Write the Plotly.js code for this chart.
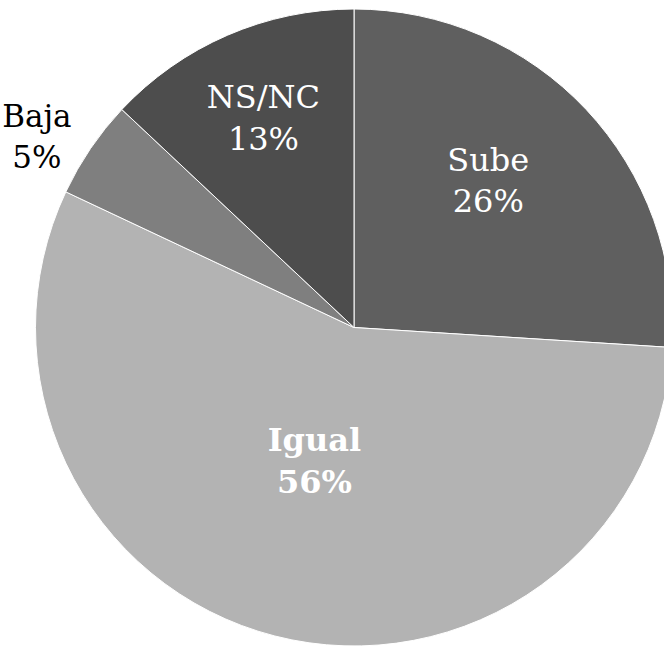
<!DOCTYPE html>
<html>
<head>
<meta charset="utf-8">
<script src="https://cdn.plot.ly/plotly-3.0.1.min.js"></script>
<style>
html,body{margin:0;padding:0;overflow:hidden;background:#fff;width:664px;height:647px;}
#chart{width:708px;height:647px;}
</style>
</head>
<body>
<div id="chart"></div>
<script>
const categories = ['Sube', 'Igual', 'Baja', 'NS/NC'];
const values = [26, 56, 5, 13];
const sliceColors = ['#5f5f5f', '#b3b3b3', '#7f7f7f', '#4d4d4d'];
const textColors = ['#ffffff', '#ffffff', '#000000', '#ffffff'];
const textSizes = [32, 32, 31, 32];
const templates = [
  '%{label}<br>%{value}%<br> ',
  '<b>%{label}<br>%{value}%</b><br> ',
  '%{label}<br>%{value}%',
  '%{label}<br>%{value}%'
];
const positions = ['inside', 'inside', 'outside', 'inside'];

const trace = {
  type: 'pie',
  labels: categories,
  values: values,
  sort: false,
  direction: 'clockwise',
  rotation: 0,
  marker: {colors: sliceColors, line: {color: '#ffffff', width: 1}},
  texttemplate: templates,
  textposition: positions,
  insidetextorientation: 'horizontal',
  textfont: {family: 'DejaVu Serif', size: textSizes, color: textColors},
  hoverinfo: 'none',
  domain: {x: [0, 1], y: [0, 1]}
};

const layout = {
  width: 708,
  height: 647,
  margin: {l: 0, r: 0, t: 9, b: 1},
  showlegend: false,
  paper_bgcolor: '#ffffff',
  font: {family: 'DejaVu Serif'}
};

Plotly.newPlot('chart', [trace], layout, {displayModeBar: false, staticPlot: true});
</script>
</body>
</html>
